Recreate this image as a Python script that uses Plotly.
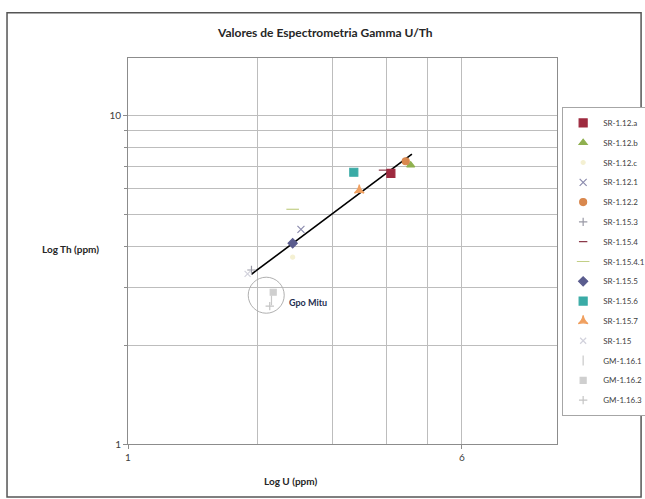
import math
import plotly.graph_objects as go

# Sample names, in legend order
samples = ["SR-1.12.a", "SR-1.12.b", "SR-1.12.c", "SR-1.12.1", "SR-1.12.2",
           "SR-1.15.3", "SR-1.15.4", "SR-1.15.4.1", "SR-1.15.5", "SR-1.15.6",
           "SR-1.15.7", "SR-1.15", "GM-1.16.1", "GM-1.16.2", "GM-1.16.3"]
# Uranium (ppm)
u_ppm = [4.10, 4.56, 2.42, 2.53, 4.44, 1.94, 3.93, 2.42, 2.42, 3.36,
         3.46, 1.90, 2.16, 2.18, 2.14]
# Thorium (ppm)
th_ppm = [6.68, 7.07, 3.71, 4.51, 7.27, 3.39, 6.83, 5.19, 4.09, 6.73,
          5.93, 3.30, 2.74, 2.90, 2.63]

# Power trend line end points (U, Th)
trend_u = [1.94, 4.59]
trend_th = [3.29, 7.64]

# Gpo Mitu group centre (U, Th)
mitu_u = 2.10
mitu_th = 2.84

# Axis ranges (data units)
x_min, x_max = 1, 10
y_min, y_max = 1, 15

styles = {
    "SR-1.12.a":   dict(symbol="square", color="#9E2A3F", size=8),
    "SR-1.12.b":   dict(symbol="triangle-up", color="#8FB04F", size=7),
    "SR-1.12.c":   dict(symbol="circle", color="#F4F0D2", size=4),
    "SR-1.12.1":   dict(symbol="x-thin-open", color="#8C8CAE", size=7),
    "SR-1.12.2":   dict(symbol="circle", color="#D9884E", size=7),
    "SR-1.15.3":   dict(symbol="cross-thin-open", color="#9A9AA6", size=6),
    "SR-1.15.4":   dict(symbol="line-ew-open", color="#8B3A4A", size=6),
    "SR-1.15.4.1": dict(symbol="line-ew-open", color="#C2CF86", size=9),
    "SR-1.15.5":   dict(symbol="diamond", color="#5A5C8E", size=7),
    "SR-1.15.6":   dict(symbol="square", color="#3AABA6", size=8),
    "SR-1.15.7":   dict(symbol="star-triangle-up", color="#F0A060", size=7),
    "SR-1.15":     dict(symbol="x-thin-open", color="#D2D2DC", size=6),
    "GM-1.16.1":   dict(symbol="line-ns-open", color="#C8C8C8", size=7),
    "GM-1.16.2":   dict(symbol="square", color="#CFCFCF", size=6),
    "GM-1.16.3":   dict(symbol="cross-thin-open", color="#C4C4C4", size=6),
}

FONT = "Lato, Open Sans, sans-serif"

fig = go.Figure()

fig.add_trace(go.Scatter(
    x=trend_u, y=trend_th, mode="lines",
    line=dict(color="black", width=1.6), showlegend=False, hoverinfo="skip"))

for name, u, th in zip(samples, u_ppm, th_ppm):
    st = styles[name]
    fig.add_trace(go.Scatter(
        x=[u], y=[th], mode="markers", name=name, legendgroup=name,
        marker=dict(symbol=st["symbol"], color=st["color"], size=st["size"],
                    line=dict(color=st["color"], width=1.2))))

grid = "#BDBDBD"
axis_line = "#8C8C8C"

fig.update_layout(
    width=645, height=499,
    margin=dict(l=128, r=88, t=58, b=55, autoexpand=False),
    paper_bgcolor="white", plot_bgcolor="white",
    font=dict(family=FONT, color="#404040", size=10),
    title=dict(text="<b>Valores de Espectrometria Gamma U/Th</b>",
               x=0.46, xref="paper", xanchor="center", y=0.935, yanchor="middle",
               font=dict(size=12, color="#262626")),
    showlegend=True,
    legend=dict(x=1.012, xanchor="left", y=0.872, yanchor="top",
                bordercolor="#A6A6A6", borderwidth=1, bgcolor="white",
                font=dict(size=8, color="#404040"),
                itemwidth=30, tracegroupgap=0.8),
    xaxis=dict(
        type="log", range=[math.log10(x_min), math.log10(x_max)],
        tickmode="array", tickvals=[1, 6], ticktext=["1", "6"],
        ticks="outside", ticklen=4, tickcolor=axis_line,
        showgrid=True, gridcolor=grid, gridwidth=1,
        minor=dict(tickmode="array", tickvals=[2, 3, 4, 5],
                   showgrid=True, gridcolor=grid, ticks=""),
        showline=True, linecolor=axis_line, linewidth=1, mirror=True,
        zeroline=False,
        tickfont=dict(size=10, color="#404040")),
    yaxis=dict(
        type="log", range=[math.log10(y_min), math.log10(y_max)],
        tickmode="array", tickvals=[1, 10], ticktext=["1", "10"],
        ticks="outside", ticklen=4, tickcolor=axis_line,
        showgrid=True, gridcolor=grid, gridwidth=1,
        minor=dict(tickmode="array", tickvals=[2, 3, 4, 5, 6, 7, 8, 9],
                   showgrid=True, gridcolor=grid, ticks="outside",
                   ticklen=3, tickcolor=axis_line),
        showline=True, linecolor=axis_line, linewidth=1, mirror=True,
        zeroline=False,
        tickfont=dict(size=10, color="#404040")),
)

# Axis titles (both horizontal)
fig.add_annotation(text="<b>Log U (ppm)</b>", xref="paper", yref="paper",
                   x=0.378, y=-0.095, showarrow=False, xanchor="center",
                   yanchor="middle", font=dict(size=10, color="#262626"))
fig.add_annotation(text="<b>Log Th (ppm)</b>", xref="paper", yref="paper",
                   x=-0.135, y=0.505, showarrow=False, xanchor="center",
                   font=dict(size=10, color="#262626"))

# Circle around the Gpo Mitu samples (paper coordinates from the log ranges)
plot_w, plot_h = 645 - 128 - 88, 499 - 58 - 55
cx = (math.log10(mitu_u) - math.log10(x_min)) / (math.log10(x_max) - math.log10(x_min))
cy = (math.log10(mitu_th) - math.log10(y_min)) / (math.log10(y_max) - math.log10(y_min))
r_px = 18
fig.add_shape(type="circle", xref="paper", yref="paper",
              x0=cx - r_px / plot_w, x1=cx + r_px / plot_w,
              y0=cy - r_px / plot_h, y1=cy + r_px / plot_h,
              line=dict(color="#B0B0B0", width=1))
fig.add_annotation(text="<b>Gpo Mitu</b>", xref="paper", yref="paper",
                   x=cx, y=cy, xshift=42, yshift=-7, xanchor="center",
                   showarrow=False, font=dict(size=9, color="#1F3050"))

# Chart frame
fig.add_shape(type="rect", xref="paper", yref="paper",
              x0=-0.282, x1=1.196, y0=-0.137, y1=1.117,
              line=dict(color="#555555", width=1.5), layer="below")

fig.write_html("out.html")
